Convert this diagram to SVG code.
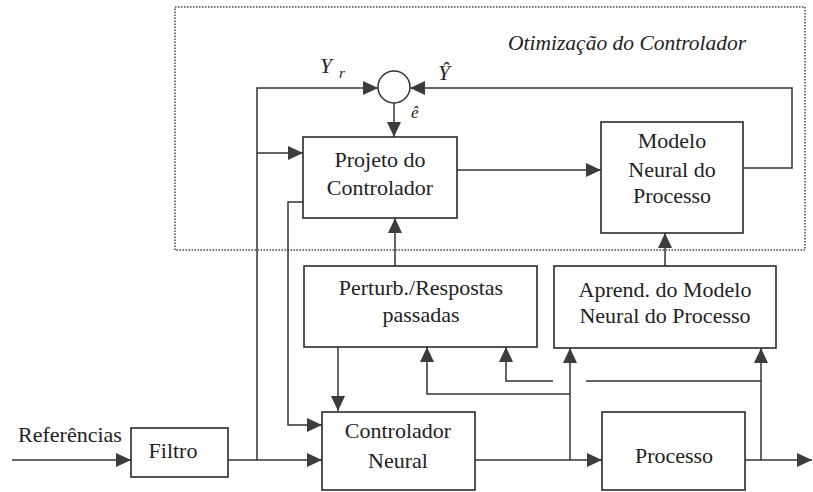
<svg xmlns="http://www.w3.org/2000/svg" width="813" height="492" viewBox="0 0 813 492">
<style>
.box{fill:#fff;stroke:#2a2a2a;stroke-width:1.6}
.ln{fill:none;stroke:#333;stroke-width:1.5}
.lnA{fill:none;stroke:#333;stroke-width:1.5;marker-end:url(#arr)}
.t{font-family:'Liberation Serif','DejaVu Serif',serif;font-size:22px;fill:#222;text-anchor:middle}
.ti{font-family:'Liberation Serif','DejaVu Serif',serif;font-size:21.5px;fill:#222;font-style:italic}
.frame{fill:none;stroke:#444;stroke-width:1.5;stroke-dasharray:1.5 1.5}
</style>
<defs>
<marker id="arr" markerUnits="userSpaceOnUse" markerWidth="16" markerHeight="16" viewBox="0 0 16 16" refX="15" refY="8" orient="auto">
<path d="M0,1 L15,8 L0,15 Z" fill="#3c3c3c"/>
</marker>
</defs>
<rect class="frame" x="175" y="7" width="630" height="243"/>
<text class="ti" x="508" y="50">Otimização do Controlador</text>
<g id="connectors">
<path class="lnA" d="M12,460 H131"/>
<path class="lnA" d="M228,460 H322"/>
<path class="lnA" d="M257,460 V88 H378"/>
<path class="lnA" d="M257,153 H303"/>
<path class="lnA" d="M743,168 H792 V88 H410"/>
<path class="lnA" d="M394,103 V137"/>
<path class="lnA" d="M457,170 H601"/>
<path class="lnA" d="M303,202 H288 V425 H322"/>
<path class="lnA" d="M395,266 V218"/>
<path class="lnA" d="M665,266 V233"/>
<path class="lnA" d="M338,347 V411"/>
<path class="lnA" d="M475,460 H602"/>
<path class="lnA" d="M570,460 V348"/>
<path class="lnA" d="M570,394 H427 V347"/>
<path class="lnA" d="M745,460 H812"/>
<path class="lnA" d="M761,460 V348"/>
<path class="ln" d="M761,381 H586"/>
<path class="lnA" d="M553,381 H506 V347"/>
</g>
<g id="sum">
<circle cx="394" cy="87" r="16" fill="#fff" stroke="#333" stroke-width="1.5"/>
<text class="ti" x="320" y="73">Y</text>
<text class="ti" x="339" y="78" style="font-size:15px">r</text>
<text class="ti" x="438" y="80">Ŷ</text>
<text class="ti" x="411" y="118" style="font-size:17px">ê</text>
</g>
<g id="projeto">
<rect class="box" x="303" y="137" width="154" height="81"/>
<text class="t" x="380" y="167">Projeto do</text>
<text class="t" x="380" y="195">Controlador</text>
</g>
<g id="modelo">
<rect class="box" x="601" y="122" width="142" height="111"/>
<text class="t" x="672" y="148">Modelo</text>
<text class="t" x="672" y="177">Neural do</text>
<text class="t" x="672" y="203">Processo</text>
</g>
<g id="perturb">
<rect class="box" x="304" y="266" width="233" height="81"/>
<text class="t" x="421" y="295">Perturb./Respostas</text>
<text class="t" x="421" y="322">passadas</text>
</g>
<g id="aprend">
<rect class="box" x="554" y="266" width="222" height="82"/>
<text class="t" x="665" y="297">Aprend. do Modelo</text>
<text class="t" x="665" y="323">Neural do Processo</text>
</g>
<g id="referencias">
<text class="t" x="70" y="442">Referências</text>
</g>
<g id="filtro">
<rect class="box" x="131" y="428" width="97" height="49"/>
<text class="t" x="173" y="458">Filtro</text>
</g>
<g id="controlador">
<rect class="box" x="322" y="412" width="153" height="78"/>
<text class="t" x="398" y="438">Controlador</text>
<text class="t" x="398" y="468">Neural</text>
</g>
<g id="processo">
<rect class="box" x="602" y="412" width="143" height="78"/>
<text class="t" x="674" y="463">Processo</text>
</g>
</svg>
